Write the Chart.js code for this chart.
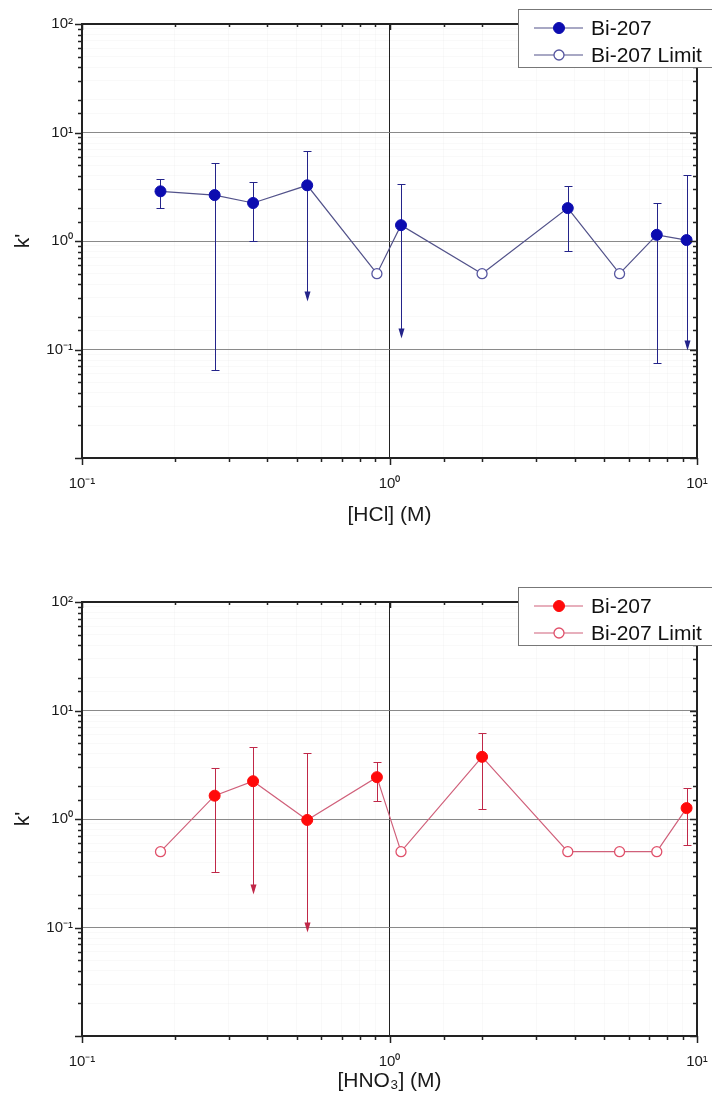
<!DOCTYPE html>
<html>
<head>
<meta charset="utf-8">
<script src="https://cdn.jsdelivr.net/npm/chart.js@4.4.1/dist/chart.umd.min.js"></script>
<style>
  html, body { margin: 0; padding: 0; background: #fff; }
  #wrap { position: relative; width: 712px; height: 1095px; }
  canvas { position: absolute; left: 0; }
  #hcl { top: 0; }
  #hno3 { top: 545px; }
</style>
</head>
<body>
<div id="wrap">
  <canvas id="hcl" width="712" height="545"></canvas>
  <canvas id="hno3" width="712" height="550"></canvas>
</div>
<script>
// HCl series
const hclX = [0.18, 0.27, 0.36, 0.54, 1.09, 3.8, 7.4, 9.25];
const hclK = [2.87, 2.65, 2.24, 3.26, 1.40, 2.01, 1.14, 1.02];
const hclHigh = [3.73, 5.2, 3.47, 6.7, 3.35, 3.21, 2.22, 4.06];
const hclLow = [2.0, 0.065, 1.0, 0.28, 0.127, 0.81, 0.075, 0.099];
const hclArrow = [false, false, false, true, true, false, false, true];
const hclLimitX = [0.91, 2.0, 5.6];
const hclLimitK = [0.5, 0.5, 0.5];

// HNO3 series
const hno3X = [0.27, 0.36, 0.54, 0.91, 2.0, 9.25];
const hno3K = [1.64, 2.23, 0.98, 2.43, 3.74, 1.26];
const hno3High = [2.96, 4.59, 4.04, 3.34, 6.22, 1.95];
const hno3Low = [0.326, 0.203, 0.091, 1.48, 1.24, 0.575];
const hno3Arrow = [false, true, true, false, false, false];
const hno3LimitX = [0.18, 1.09, 3.8, 5.6, 7.4];
const hno3LimitK = [0.5, 0.5, 0.5, 0.5, 0.5];

const supers = { '-': '⁻', '0': '⁰', '1': '¹', '2': '²', '3': '³' };
const isDecade = (v) => Math.abs(Math.log10(v) - Math.round(Math.log10(v))) < 1e-9;
const powLabel = (v) => '10' + String(Math.round(Math.log10(v))).split('').map(c => supers[c]).join('');

Chart.defaults.font.family = '"Liberation Sans", Arial, sans-serif';
Chart.defaults.color = '#1a1a1a';

const toPts = (xs, ys) => xs.map((x, i) => ({ x, y: ys[i] }));

// error bars with caps, or an arrow head where the lower bound runs off
const errorBars = {
  id: 'errorBars',
  beforeDatasetsDraw(chart) {
    const { ctx, scales: { x, y } } = chart;
    chart.data.datasets.forEach(ds => {
      if (!ds.errHigh) return;
      ctx.save();
      ctx.strokeStyle = ds.errColor;
      ctx.fillStyle = ds.errColor;
      ctx.lineWidth = 1;
      ds.data.forEach((p, i) => {
        const px = Math.round(x.getPixelForValue(p.x)) + 0.5;
        const top = Math.round(y.getPixelForValue(ds.errHigh[i])) + 0.5;
        const bot = Math.round(y.getPixelForValue(ds.errLow[i])) + 0.5;
        const arrow = ds.errArrow[i];
        ctx.beginPath();
        ctx.moveTo(px, top);
        ctx.lineTo(px, arrow ? bot - 8 : bot);
        ctx.moveTo(px - 4, top);
        ctx.lineTo(px + 4, top);
        if (!arrow) {
          ctx.moveTo(px - 4, bot);
          ctx.lineTo(px + 4, bot);
        }
        ctx.stroke();
        if (arrow) {
          ctx.beginPath();
          ctx.moveTo(px - 3, bot - 10);
          ctx.lineTo(px + 3, bot - 10);
          ctx.lineTo(px, bot);
          ctx.closePath();
          ctx.fill();
        }
      });
      ctx.restore();
    });
  }
};

// axis frame with tick marks, then the boxed legend
const frameAndLegend = {
  id: 'frameAndLegend',
  afterDraw(chart, args, opts) {
    const { ctx, chartArea: a, scales: { x, y } } = chart;
    ctx.save();
    ctx.strokeStyle = '#222';
    ctx.lineWidth = 1.5;
    ctx.beginPath();
    x.ticks.forEach(t => {
      const px = Math.round(x.getPixelForValue(t.value)) + 0.5;
      const len = isDecade(t.value) ? 7 : 4;
      ctx.moveTo(px, a.bottom); ctx.lineTo(px, a.bottom + len);
      ctx.moveTo(px, a.top); ctx.lineTo(px, a.top + len - 1);
    });
    y.ticks.forEach(t => {
      const py = Math.round(y.getPixelForValue(t.value)) + 0.5;
      const len = isDecade(t.value) ? 7 : 4;
      ctx.moveTo(a.left, py); ctx.lineTo(a.left - len, py);
      ctx.moveTo(a.right, py); ctx.lineTo(a.right - len, py);
    });
    ctx.stroke();
    ctx.lineWidth = 2;
    ctx.strokeRect(a.left, a.top, a.right - a.left, a.bottom - a.top);

    // legend
    const lx = 518, ly = opts.top, rowH = 27;
    ctx.fillStyle = '#fff';
    ctx.fillRect(lx, ly, 220, 58);
    ctx.strokeStyle = '#777';
    ctx.lineWidth = 1;
    ctx.strokeRect(lx + 0.5, ly + 0.5, 220, 58);
    const entries = chart.data.datasets.filter(d => d.legendEntry);
    entries.forEach((d, i) => {
      const cy = ly + 19 + i * rowH;
      ctx.strokeStyle = opts.lineColor;
      ctx.lineWidth = 1.2;
      ctx.beginPath();
      ctx.moveTo(lx + 16, cy); ctx.lineTo(lx + 65, cy);
      ctx.stroke();
      ctx.beginPath();
      ctx.arc(lx + 41, cy, d.pointRadius, 0, Math.PI * 2);
      ctx.fillStyle = d.pointBackgroundColor;
      ctx.fill();
      ctx.strokeStyle = d.pointBorderColor;
      ctx.lineWidth = d.pointBorderWidth;
      ctx.stroke();
      ctx.fillStyle = '#111';
      ctx.font = '21px "Liberation Sans", Arial, sans-serif';
      ctx.textBaseline = 'middle';
      ctx.fillText(d.label, lx + 73, cy + 1);
    });
    ctx.restore();
  }
};

function makeChart(id, cfg) {
  const all = toPts(cfg.xs.concat(cfg.limitX), cfg.ks.concat(cfg.limitK)).sort((p, q) => p.x - q.x);
  return new Chart(document.getElementById(id), {
    type: 'scatter',
    data: {
      datasets: [
        {
          label: 'Bi-207',
          legendEntry: true,
          data: toPts(cfg.xs, cfg.ks),
          errHigh: cfg.high,
          errLow: cfg.low,
          errArrow: cfg.arrow,
          errColor: cfg.errColor,
          pointRadius: 5.5,
          pointBackgroundColor: cfg.markColor,
          pointBorderColor: cfg.markColor,
          pointBorderWidth: 1,
          order: 1
        },
        {
          label: 'Bi-207 Limit',
          legendEntry: true,
          data: toPts(cfg.limitX, cfg.limitK),
          pointRadius: 5,
          pointBackgroundColor: '#fff',
          pointBorderColor: cfg.openColor,
          pointBorderWidth: 1.3,
          order: 2
        },
        {
          label: 'trace',
          data: all,
          showLine: true,
          borderColor: cfg.lineColor,
          borderWidth: 1.2,
          pointRadius: 0,
          order: 3
        }
      ]
    },
    options: {
      responsive: false,
      animation: false,
      devicePixelRatio: 1,
      layout: { padding: { top: cfg.padTop, right: 15, left: 0, bottom: 0 } },
      plugins: {
        legend: { display: false },
        tooltip: { enabled: false },
        frameAndLegend: { top: cfg.legendTop, lineColor: cfg.lineColor }
      },
      scales: {
        x: {
          type: 'logarithmic',
          min: 0.1,
          max: 10,
          afterFit: (s) => {
            s.height = cfg.xAxisH;
            s.paddingLeft = 0;
            s.paddingRight = 0;
          },
          border: { display: false },
          grid: {
            drawTicks: false,
            color: (c) => c.tick.value === 1 ? '#222' : (isDecade(c.tick.value) ? 'rgba(0,0,0,0)' : 'rgba(0,0,0,0.022)'),
            lineWidth: 1
          },
          ticks: {
            autoSkip: false,
            maxRotation: 0,
            padding: 17,
            font: { size: 15 },
            callback: (v) => isDecade(v) ? powLabel(v) : ''
          },
          title: {
            display: true,
            text: cfg.xTitle,
            font: { size: 21 },
            padding: { top: 0, bottom: cfg.titlePad }
          }
        },
        y: {
          type: 'logarithmic',
          min: 0.01,
          max: 100,
          afterFit: (s) => { s.width = 82; },
          border: { display: false },
          grid: {
            drawTicks: false,
            color: (c) => isDecade(c.tick.value) ? '#8a8a8a' : 'rgba(0,0,0,0.022)',
            lineWidth: 1
          },
          ticks: {
            autoSkip: false,
            padding: 9,
            font: { size: 15 },
            callback: (v) => (isDecade(v) && v > 0.011) ? powLabel(v) : ''
          },
          title: {
            display: true,
            text: "k'",
            font: { size: 21 },
            padding: { top: 11, bottom: 0 }
          }
        }
      }
    },
    plugins: [errorBars, frameAndLegend]
  });
}

makeChart('hcl', {
  xs: hclX, ks: hclK, high: hclHigh, low: hclLow, arrow: hclArrow,
  limitX: hclLimitX, limitK: hclLimitK,
  markColor: '#0c0cb0', openColor: '#5656a0', lineColor: '#52528a', errColor: '#24248a',
  padTop: 24, xAxisH: 87, legendTop: 9, titlePad: 17, xTitle: '[HCl] (M)'
});

makeChart('hno3', {
  xs: hno3X, ks: hno3K, high: hno3High, low: hno3Low, arrow: hno3Arrow,
  limitX: hno3LimitX, limitK: hno3LimitK,
  markColor: '#ff0a0a', openColor: '#e0506a', lineColor: '#d0607a', errColor: '#c02848',
  padTop: 57, xAxisH: 59, legendTop: 42, titlePad: 1, xTitle: '[HNO₃] (M)'
});
</script>
</body>
</html>
